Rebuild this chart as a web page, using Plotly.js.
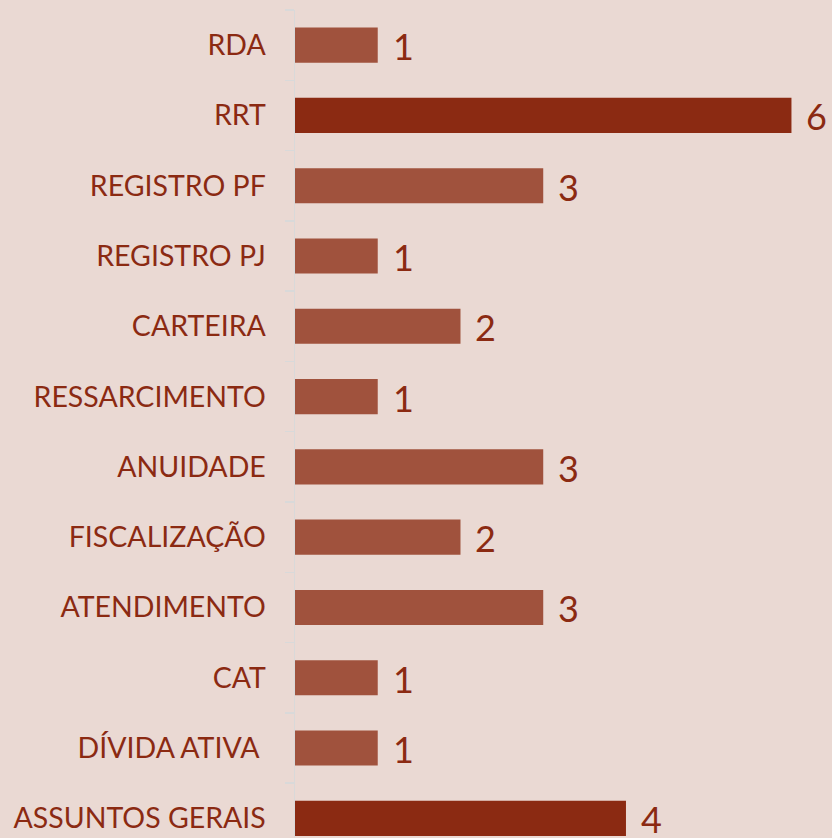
<!DOCTYPE html>
<html><head><meta charset="utf-8">
<script src="https://cdn.plot.ly/plotly-3.0.1.min.js"></script>
<style>html,body{margin:0;padding:0;background:#EAD9D3;}</style>
</head><body>
<div id="chart" style="width:832px;height:838px;"></div>
<script>
const categories = ["RDA","RRT","REGISTRO PF","REGISTRO PJ","CARTEIRA","RESSARCIMENTO","ANUIDADE","FISCALIZAÇÃO","ATENDIMENTO","CAT","DÍVIDA ATIVA ","ASSUNTOS GERAIS"];
const values = [1,6,3,1,2,1,3,2,3,1,1,4];
const highlight = [false,true,false,false,false,false,false,false,false,false,false,true];

const lightColor = "#A0523D";
const darkColor = "#8B2A12";
const textColor = "#8B2A12";

const trace = {
  type: "bar",
  orientation: "h",
  y: categories,
  x: values,
  width: 0.5,
  marker: {color: highlight.map(h => h ? darkColor : lightColor)},
  hoverinfo: "none"
};

const annotations = categories.map((c, i) => ({
  x: values[i], y: c, xref: "x", yref: "y",
  text: String(values[i]), showarrow: false,
  xanchor: "left", yanchor: "middle", xshift: 13, yshift: -1,
  font: {family: "Lato, 'DejaVu Sans', sans-serif", size: 36, color: textColor}
}));

const layout = {
  width: 832, height: 838,
  margin: {l: 295, r: 0, t: 10, b: 0},
  paper_bgcolor: "#EAD9D3",
  plot_bgcolor: "#EAD9D3",
  showlegend: false,
  xaxis: {range: [0, 6.49], visible: false, fixedrange: true},
  yaxis: {
    type: "category",
    range: [11.28, -0.5],
    tickson: "boundaries",
    ticks: "outside", ticklen: 9, tickcolor: "#D9D9D9", tickwidth: 1.5,
    showline: true, linecolor: "#D9D9D9", linewidth: 1.5,
    showgrid: false, zeroline: false,
    ticklabelstandoff: 22,
    tickfont: {family: "Lato, 'DejaVu Sans', sans-serif", size: 28.5, color: textColor}
  },
  annotations: annotations
};

Plotly.newPlot("chart", [trace], layout, {displayModeBar: false, staticPlot: true});
</script>
</body></html>
